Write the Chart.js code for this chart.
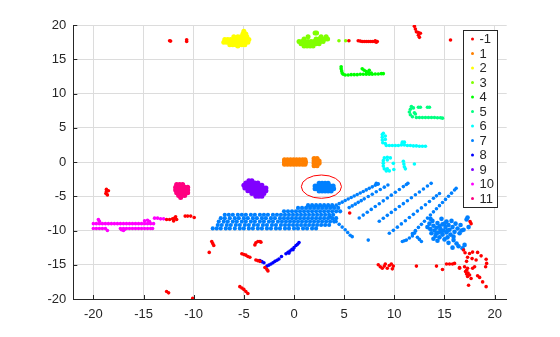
<!DOCTYPE html>
<html><head><meta charset="utf-8">
<script src="https://cdn.jsdelivr.net/npm/chart.js@4.4.0/dist/chart.umd.min.js"></script>
<style>html,body{margin:0;padding:0;background:#fff}canvas{display:block}</style>
</head><body>
<canvas id="c" width="560" height="337"></canvas>
<script>
// ---------- data ----------
const clusterLabels = ['-1','1','2','3','4','5','6','7','8','9','10','11'];
const clusterColors = ['#ff0000','#ff8000','#ffff00','#80ff00','#00ff00','#00ff80',
                       '#00ffff','#0080ff','#0000ff','#8000ff','#ff00ff','#ff0080'];
const xTicks = [-20,-15,-10,-5,0,5,10,15,20];
const yTicks = [-20,-15,-10,-5,0,5,10,15,20];
const xRange = [-22, 21.2];
const yRange = [-20, 20];
const ellipseMark = [2.73, -3.6, 2.0, 1.7]; // centre x, centre y, radius x, radius y (data units)

// cluster -1 (noise), individual points [x,y]
const redPts = [
 [-12.4,17.7],[-12.3,17.65],[-10.7,17.6],[-10.7,17.85],
 [5.47,17.7],[6.4,17.7],[6.6,17.65],[6.8,17.6],[7.0,17.6],[7.2,17.6],[7.4,17.6],[7.6,17.6],[7.8,17.6],[8.0,17.6],[8.1,17.7],[8.2,17.5],[8.3,17.6],
 [12.0,19.8],[12.1,19.4],[12.2,19.0],[12.4,18.9],[12.6,18.8],[12.4,18.5],[12.5,18.2],
 [15.6,17.8],
 [-18.7,-4.0],[-18.7,-4.3],[-18.75,-4.6],[-18.6,-4.8],[-18.5,-4.2],
 [-12.7,-8.4],[-12.4,-8.4],[-12.1,-8.3],[-11.9,-8.2],[-11.7,-8.4],[-12.0,-8.6],[-11.8,-8.0],
 [-10.85,-7.9],[-10.6,-7.9],[-10.3,-7.9],[-9.95,-8.1],
 [-8.2,-11.6],[-8.1,-11.9],[-8.0,-12.2],[-8.45,-13.2],
 [-5.2,-13.4],[-5.0,-13.5],[-4.8,-13.6],[-4.6,-13.8],[-4.4,-13.9],
 [-3.9,-12.1],[-3.8,-11.8],[-3.6,-11.6],[-3.4,-11.6],[-3.3,-11.7],
 [-3.8,-14.3],[-3.6,-14.4],[-3.4,-14.5],
 [-2.9,-15.4],[-2.7,-15.7],[-2.6,-15.9],
 [-5.4,-18.2],[-5.2,-18.4],[-5.0,-18.6],[-4.8,-18.9],[-4.6,-19.2],
 [-10.1,-19.9],[-12.7,-18.9],[-12.5,-19.1],
 [5.55,-7.45],[17.55,-8.7],[17.65,-9.0],
 [8.4,-15.0],[8.6,-15.3],[8.8,-15.5],[9.0,-15.2],[9.1,-14.9],[9.3,-15.5],[9.5,-15.1],[9.7,-14.9],[9.8,-15.6],[9.9,-15.2],
 [12.2,-15.2],[14.2,-15.2],[14.8,-15.7],[15.2,-14.9],[15.5,-14.9],[15.8,-14.9],[16.0,-14.8],[16.5,-15.5],
 [16.9,-12.85],[17.05,-13.25],[17.5,-13.35],[17.8,-13.15],[18.3,-13.2],[17.3,-13.9],[17.75,-14.1],[18.15,-14.3],[18.65,-13.7],[19.15,-14.2],
 [19.1,-15.3],[16.5,-15.4],[17.0,-15.3],[17.3,-15.5],[17.8,-15.5],[17.1,-16.0],[17.2,-16.35],[17.3,-16.7],[17.65,-17.0],[18.3,-16.6],
 [18.5,-16.85],[18.8,-17.5],[17.4,-18.0],[19.15,-18.2],[17.2,-15.8],[17.35,-16.2],[17.5,-16.5],[17.2,-14.5],[18.0,-15.3],[19.2,-14.8]
];

// dense clusters, as rows: [y, [x, x, ...]]
const orangeRows = [
 [0.32,[-0.95,-0.65,-0.35,-0.05,0.25,0.55,0.85,1.1]],
 [0.0,[-0.95,-0.65,-0.35,-0.05,0.25,1.15]],
 [-0.32,[-0.95,-0.65,-0.35,-0.05,0.25,0.55,0.85,1.1]],
 [0.5,[2.0,2.3]],[0.15,[2.0,2.3,2.5]],[-0.2,[2.0,2.3,2.5]],[-0.55,[2.0,2.3]]
];
const yellowRows = [
 [19.1,[-5.0]],
 [18.7,[-5.1,-4.8]],
 [18.3,[-6.0,-5.6,-5.3,-5.0,-4.7]],
 [17.9,[-6.9,-6.6,-6.3,-6.0,-5.7,-5.4,-5.1,-4.8,-4.5]],
 [17.5,[-7.0,-6.7,-6.4,-6.1,-5.8,-5.5,-5.2,-4.9,-4.6]],
 [17.1,[-6.4,-6.1,-5.8,-5.5,-5.2,-4.9]],
 [16.95,[-5.6]]
];
const chartreuseRows = [
 [18.85,[2.1,2.25]],
 [18.3,[1.4,2.7,3.2]],
 [17.95,[1.0,2.2,2.5,2.8,3.1,3.35]],
 [17.6,[0.5,0.8,1.1,1.4,1.7,2.0,2.3,2.6,2.9]],
 [17.25,[0.7,1.0,1.3,1.6,1.9,2.2,2.5]],
 [16.95,[1.0,1.3,1.6,1.9]]
];
const chartreusePts = [[4.48,17.7],[5.15,17.7]];
const greenPts = [
 [4.7,13.9],[4.7,13.6],[4.75,13.3],[4.8,13.0],[4.9,12.8],
 [5.1,12.7],[5.4,12.7],[5.7,12.75],[6.0,12.75],[6.3,12.75],[6.6,12.8],[6.9,12.8],[7.2,12.8],[7.5,12.8],[7.8,12.8],[8.1,12.85],[8.4,12.85],[8.7,12.9],[8.9,12.9],
 [6.8,13.6],[7.0,13.4],[7.2,13.2],[7.4,13.1],[7.7,13.0],[7.5,13.4]
];
const springPts = [
 [11.7,8.1],[11.6,7.7],[11.5,7.3],[11.6,6.9],[11.8,6.6],[12.0,7.2],[12.2,6.5],[12.5,6.5],[12.8,6.5],[13.1,6.5],[13.4,6.5],[13.7,6.5],
 [14.0,6.5],[14.3,6.45],[14.6,6.45],[14.8,6.4],[12.4,8.0],[12.6,8.0],[13.3,8.0],[13.5,8.0],[11.9,7.9],[12.1,7.0]
];
const cyanPts = [
 [8.8,4.0],[8.9,4.2],[8.8,3.6],[9.1,3.8],[8.8,3.2],[9.1,3.3],[8.85,2.8],[9.1,2.7],[9.2,2.4],[9.5,2.4],[9.8,2.4],[10.1,2.4],[10.4,2.4],
 [10.7,2.5],[10.8,2.9],[11.0,2.5],[11.0,2.9],[11.3,2.4],[11.6,2.4],[11.9,2.35],[12.2,2.35],[12.5,2.3],[12.8,2.3],[13.1,2.3],
 [9.0,0.6],[9.3,0.7],[9.6,0.6],[8.9,0.2],[8.9,-0.2],[8.9,-0.6],[9.0,-1.0],[9.2,-1.3],[9.5,-1.3],[9.3,0.3],[9.3,-1.0],
 [9.9,-0.2],[9.95,-1.1],[10.9,0.1],[10.95,-0.3],[11.0,-0.7],[11.1,-1.0],[12.0,-0.3]
];
// cluster 7: rays fanning out to the upper right, tail and branch
const azureRayPts = [
 [3.9,-6.53],[4.2,-6.3],[4.5,-6.08],[4.8,-5.86],[5.1,-5.63],[5.4,-5.41],[5.7,-5.19],[6.0,-4.96],[6.3,-4.74],[6.6,-4.52],[6.9,-4.3],[7.2,-4.07],[7.5,-3.85],[7.8,-3.63],[8.1,-3.4],[8.3,-3.25],[8.2,-3.1],[8.4,-3.2],
 [5.5,-6.66],[5.8,-6.41],[6.1,-6.15],[6.4,-5.89],[6.7,-5.64],[7.0,-5.38],[7.4,-5.04],[7.8,-4.7],[8.2,-4.35],[8.6,-4.01],[9.0,-3.67],[9.36,-3.36],
 [6.5,-8.17],[6.9,-7.75],[7.3,-7.34],[7.7,-6.92],[8.1,-6.5],[8.5,-6.09],[8.9,-5.67],[9.3,-5.26],[9.7,-4.84],[10.1,-4.42],[10.5,-4.01],[10.9,-3.59],[11.2,-3.28],[11.35,-3.12],
 [8.5,-8.64],[8.9,-8.21],[9.3,-7.79],[9.7,-7.36],[10.1,-6.93],[10.5,-6.5],[10.9,-6.08],[11.3,-5.65],[11.7,-5.22],[12.1,-4.79],[12.5,-4.37],[12.9,-3.94],[13.3,-3.51],[13.67,-3.12],
 [9.9,-9.98],[10.3,-9.51],[10.7,-9.04],[11.1,-8.57],[11.5,-8.1],[11.9,-7.64],[12.3,-7.17],[12.7,-6.7],[13.1,-6.23],[13.5,-5.76],[13.9,-5.3],[14.2,-4.94],[14.5,-4.59],
 [11.8,-10.46],[12.1,-10.01],[12.4,-9.55],[12.7,-9.1],[13.0,-8.64],[13.3,-8.19],[13.6,-7.73],[13.9,-7.28],[14.2,-6.82],[14.5,-6.37],[14.8,-5.91],[15.1,-5.46],[15.4,-5.0],[15.7,-4.55],[16.0,-4.09],[16.16,-3.85],
 [3.6,-8.0],[3.9,-8.3],[4.2,-8.7],[4.5,-9.1],[4.8,-9.5],[5.1,-9.9],[5.35,-10.3],[5.6,-10.7],[5.8,-10.9],
 [7.4,-11.4],[9.5,-10.4],
 [11.2,-11.4],[11.5,-11.1],[11.8,-10.8],[12.0,-10.4],[12.1,-10.1],[12.3,-11.0],[12.5,-11.3],[12.7,-11.6],[10.8,-11.6],[11.0,-11.5]
];
// cluster 7: clump at the lower right
const azureClumpPts = [
 [13.3,-9.5],[13.5,-9.0],[13.6,-9.8],[13.7,-10.4],[13.8,-8.6],[13.9,-9.3],[14.0,-10.0],[14.1,-10.8],[14.2,-9.6],[14.3,-8.9],[14.4,-10.3],
 [14.5,-11.0],[14.6,-9.8],[14.7,-8.3],[14.8,-9.1],[14.8,-10.6],[14.9,-10.0],[15.0,-11.3],[15.1,-9.5],[15.2,-8.7],[15.2,-10.3],[15.3,-11.0],
 [15.4,-9.2],[15.5,-9.9],[15.6,-10.6],[15.7,-8.6],[15.8,-9.5],[15.9,-11.4],[16.0,-10.2],[16.1,-9.0],[16.2,-11.9],[16.3,-9.7],[16.5,-10.4],
 [16.6,-9.2],[16.8,-12.6],[16.9,-9.9],[17.2,-8.4],[17.3,-8.1],[17.0,-12.1],[16.4,-12.3],[15.4,-11.8],[15.8,-12.5],[17.4,-9.5],[14.3,-11.5],
 [13.9,-11.2],[13.6,-8.3],[14.5,-9.4],[15.0,-9.0],[15.3,-10.0],[14.7,-10.2],[15.9,-10.9],[16.7,-10.0],[14.2,-10.4]
];
// cluster 7: the long band
const azureBandRows = [
 [-6.3,[1.4,1.8,2.2,2.6,3.0,3.4,3.8]],
 [-6.7,[0.4,0.8,1.2,1.6,2.0,2.4,2.8,3.2,3.6,4.0,4.4]],
 [-7.2,[-1.0,-0.6,-0.2,0.2,0.6,1.0,1.4,1.8,2.2,2.6,3.0,3.4,3.8,4.2,4.6]],
 [-7.7,[-6.9,-6.5,-6.1,-5.6,-5.2,-4.8,-4.3,-3.9,-3.4,-3.0,-2.6,-2.1,-1.7,-1.3,-0.9,-0.5,-0.1,0.3,0.7,1.1,1.5,1.9,2.3,2.7,3.1,3.5,3.9]],
 [-8.2,[-7.3,-6.9,-6.4,-5.9,-5.5,-5.0,-4.6,-4.1,-3.7,-3.2,-2.8,-2.3,-1.9,-1.4,-1.0,-0.6,-0.2,0.2,0.6,1.0,1.4,1.8,2.2,2.6,3.0,3.4,3.8,4.2]],
 [-8.7,[-7.5,-7.0,-6.6,-6.1,-5.7,-5.2,-4.8,-4.3,-3.9,-3.4,-3.0,-2.5,-2.1,-1.6,-1.2,-0.8,-0.4,0.0,0.4,0.8,1.2,1.6,2.0,2.4,2.8,3.2,3.6,4.0]],
 [-9.2,[-7.6,-7.2,-6.7,-6.3,-5.8,-5.4,-4.9,-4.5,-4.0,-3.6,-3.1,-2.7,-2.2,-1.8,-1.3,-0.9,-0.5,-0.1,0.3,0.7,1.1,1.5,1.9,2.3,2.7,3.1,3.5]],
 [-9.7,[-8.1,-7.7,-7.3,-6.8,-6.4,-5.9,-5.4,-5.0,-4.5,-4.1,-3.6,-3.2,-2.7,-2.3,-1.8,-1.4,-0.9,-0.5,0.0,0.4,0.9,1.3,1.8,2.2]]
];
// cluster 7: the circled group
const azureCircledRows = [
 [-3.1,[2.5,2.8,3.1,3.4]],
 [-3.5,[2.1,2.4,2.7,3.0,3.3,3.6,3.9]],
 [-3.9,[2.1,2.4,2.7,3.0,3.3,3.6,3.95]],
 [-4.25,[2.5,2.8,3.1,3.4,3.7]]
];
const bluePts = [
 [-3.4,-14.4],[-3.2,-14.55],[-3.0,-14.7],[-2.7,-15.2],[-2.5,-15.05],[-2.3,-14.9],[-2.1,-14.7],[-1.9,-14.5],[-1.7,-14.35],[-1.5,-14.15],
 [-1.25,-13.8],[-0.8,-13.4],[-0.6,-13.2],[-0.4,-13.0],[-0.2,-12.75],[0.0,-12.5],[0.2,-12.2],[0.35,-12.0],[0.5,-11.75],[-0.5,-13.3],[-0.1,-12.8]
];
const violetRows = [
 [-2.75,[-4.5,-4.2]],
 [-3.05,[-4.8,-4.5,-4.2,-3.9,-3.6]],
 [-3.4,[-5.0,-4.7,-4.4,-4.1,-3.8,-3.5,-3.2]],
 [-3.8,[-4.9,-4.6,-4.3,-4.0,-3.7,-3.4,-3.1,-2.8]],
 [-4.2,[-4.6,-4.3,-4.0,-3.7,-3.4,-3.1,-2.8]],
 [-4.6,[-4.2,-3.9,-3.6,-3.3,-3.0]],
 [-5.0,[-3.8,-3.5,-3.2]]
];
const magentaPts = [
 [-20.0,-9.0],[-19.7,-9.0],[-19.4,-9.0],[-19.1,-9.0],[-18.8,-9.0],[-18.5,-9.0],[-18.2,-9.0],[-17.9,-9.0],[-17.6,-9.0],[-17.3,-9.0],[-17.0,-9.0],
 [-16.7,-9.0],[-16.4,-9.0],[-16.1,-9.0],[-15.8,-9.0],[-15.5,-9.0],[-15.2,-9.0],[-14.9,-9.0],[-14.6,-9.0],[-14.3,-9.0],[-14.0,-9.0],
 [-20.0,-9.7],[-19.7,-9.7],[-19.4,-9.7],[-19.1,-9.7],[-18.8,-9.7],
 [-17.3,-9.7],[-17.0,-9.7],[-16.7,-9.7],[-16.4,-9.7],[-16.1,-9.7],[-15.8,-9.7],[-15.5,-9.7],[-15.2,-9.7],[-14.9,-9.7],[-14.6,-9.7],[-14.3,-9.7],[-14.1,-9.7],
 [-17.2,-9.9],[-17.0,-10.0],[-16.9,-9.85],[-18.6,-10.0],
 [-19.5,-8.4],[-19.4,-8.65],[-14.9,-8.6],[-14.6,-8.5],[-14.4,-8.7],
 [-13.9,-8.2],[-13.6,-8.2],[-13.3,-8.3],[-13.0,-8.3]
];
const roseRows = [
 [-3.3,[-11.7,-11.4,-11.1]],
 [-3.7,[-11.8,-11.5,-11.2,-10.9,-10.6]],
 [-4.1,[-11.8,-11.5,-11.2,-10.9,-10.6]],
 [-4.5,[-11.7,-11.4,-11.1,-10.8,-10.6]],
 [-4.9,[-11.5,-11.2,-10.9]],
 [-5.2,[-11.3]]
];

// ---------- build chart ----------
const pairsToPts = a => a.map(([x, y]) => ({x, y}));
const rowsToPts = rows => rows.flatMap(([y, xs]) => xs.map(x => ({x, y})));

// [cluster index, points, marker radius]
const layers = [
  [0, pairsToPts(redPts), 1.8],
  [1, rowsToPts(orangeRows), 2.5],
  [2, rowsToPts(yellowRows), 2.5],
  [3, rowsToPts(chartreuseRows), 2.5],
  [3, pairsToPts(chartreusePts), 1.8],
  [4, pairsToPts(greenPts), 1.8],
  [5, pairsToPts(springPts), 1.8],
  [6, pairsToPts(cyanPts), 1.8],
  [7, rowsToPts(azureBandRows), 2.1],
  [7, rowsToPts(azureCircledRows), 2.5],
  [7, pairsToPts(azureRayPts), 1.8],
  [7, pairsToPts(azureClumpPts), 2.3],
  [8, pairsToPts(bluePts), 1.8],
  [9, rowsToPts(violetRows), 2.5],
  [10, pairsToPts(magentaPts), 1.8],
  [11, rowsToPts(roseRows), 2.5]
];
const datasets = layers.map(([i, pts, r]) => ({
  label: clusterLabels[i], data: pts,
  backgroundColor: clusterColors[i], borderWidth: 0, pointRadius: r, pointHoverRadius: r
}));

const FONT = "'Liberation Sans', Arial, sans-serif";
const TXT = '#262626';

const decor = {
  id: 'decor',
  beforeDraw(chart) {
    const c = chart.ctx; c.save(); c.fillStyle = '#fff'; c.fillRect(0, 0, chart.width, chart.height); c.restore();
  },
  afterDatasetsDraw(chart) {
    const c = chart.ctx, xs = chart.scales.x, ys = chart.scales.y, a = chart.chartArea;
    const [cx, cy, rx, ry] = ellipseMark;
    const px = xs.getPixelForValue(cx), py = ys.getPixelForValue(cy);
    c.save();
    c.strokeStyle = '#ff0000'; c.lineWidth = 1;
    c.beginPath();
    c.ellipse(px, py, Math.abs(xs.getPixelForValue(cx + rx) - px), Math.abs(ys.getPixelForValue(cy + ry) - py), 0, 0, Math.PI * 2);
    c.stroke();
    c.strokeStyle = TXT; c.lineWidth = 1;
    c.beginPath();
    xTicks.forEach(v => { const x = Math.round(xs.getPixelForValue(v)) + 0.5; c.moveTo(x, a.bottom); c.lineTo(x, a.bottom - 4); });
    yTicks.forEach(v => { const y = Math.round(ys.getPixelForValue(v)) + 0.5; c.moveTo(a.left, y); c.lineTo(a.left + 4, y); });
    c.stroke();
    c.restore();
  },
  afterDraw(chart) {
    const c = chart.ctx, a = chart.chartArea;
    const w = 34, h = 177;
    const x0 = Math.round(a.right - 10 - w) + 0.5, y0 = Math.round(a.top + 5) + 0.5;
    c.save();
    c.fillStyle = '#fff'; c.fillRect(x0, y0, w, h);
    c.strokeStyle = TXT; c.lineWidth = 1; c.strokeRect(x0, y0, w, h);
    c.font = '13px ' + FONT; c.textBaseline = 'middle'; c.textAlign = 'left';
    clusterLabels.forEach((lab, i) => {
      const y = y0 + 8.5 + i * 14.5;
      c.fillStyle = clusterColors[i];
      c.beginPath(); c.arc(x0 + 9, y, 1.5, 0, Math.PI * 2); c.fill();
      c.fillStyle = TXT; c.fillText(lab, x0 + 16, y + 0.5);
    });
    c.restore();
  }
};

new Chart(document.getElementById('c'), {
  type: 'scatter',
  data: { datasets },
  options: {
    responsive: false, animation: false, devicePixelRatio: 1,
    layout: { padding: { left: 0, right: 53.3, top: 25, bottom: 0 } },
    plugins: { legend: { display: false }, tooltip: { enabled: false } },
    scales: {
      x: {
        type: 'linear', min: xRange[0], max: xRange[1],
        afterBuildTicks: s => { s.ticks = xTicks.map(v => ({ value: v })); },
        afterFit: s => { s.height = 38; },
        grid: { color: '#dcdcdc', lineWidth: 1, drawTicks: false },
        border: { display: true, color: TXT, width: 1 },
        ticks: { color: TXT, font: { family: FONT, size: 13 }, padding: 8, maxRotation: 0, autoSkip: false }
      },
      y: {
        type: 'linear', min: yRange[0], max: yRange[1],
        afterBuildTicks: s => { s.ticks = yTicks.map(v => ({ value: v })); },
        afterFit: s => { s.width = 73.3; },
        grid: { color: '#dcdcdc', lineWidth: 1, drawTicks: false },
        border: { display: true, color: TXT, width: 1 },
        ticks: { color: TXT, font: { family: FONT, size: 13 }, padding: 7, autoSkip: false }
      }
    }
  },
  plugins: [decor]
});
</script>
</body></html>
